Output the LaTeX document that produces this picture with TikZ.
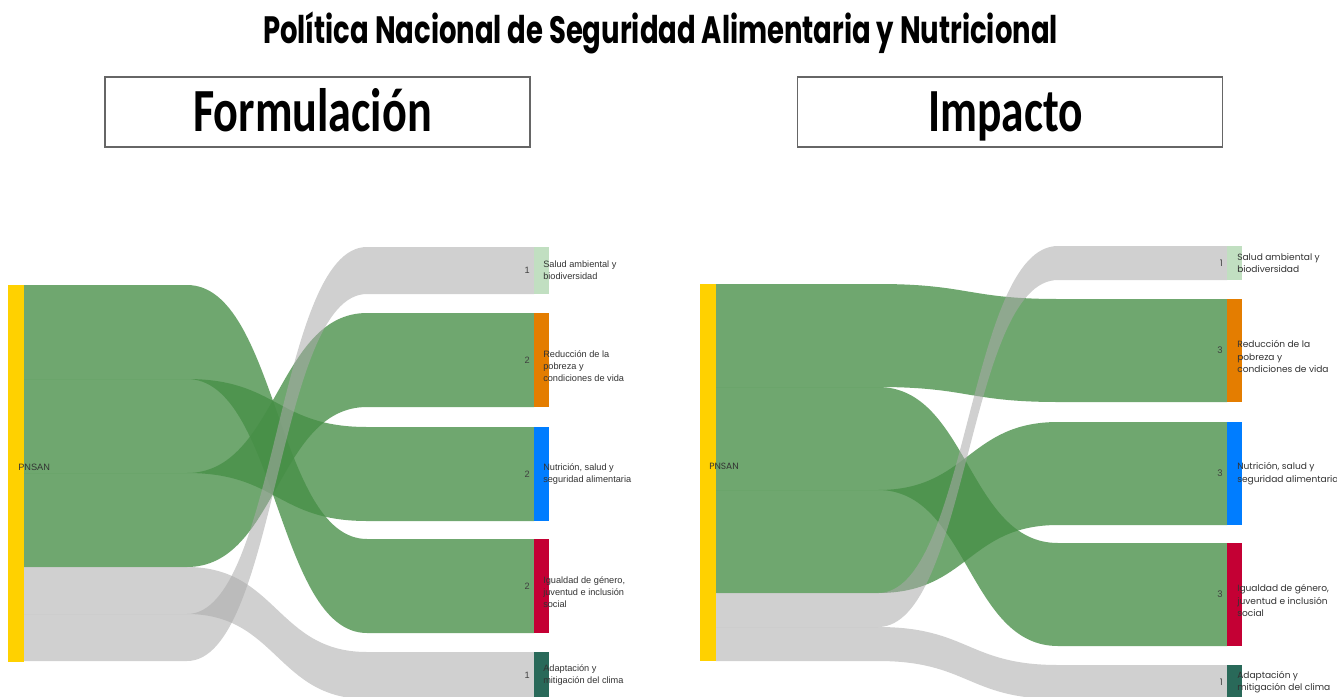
\documentclass[tikz,border=0pt]{standalone}
\usepackage{fontspec}
\usepackage{graphicx}
\setmainfont{Liberation Sans}
\newfontfamily\titlefont{Poppins}
\newfontfamily\boxfont{Carlito}
\newfontfamily\geofont{Poppins}
\definecolor{PNSANyellow}{RGB}{255,209,0}
\definecolor{SALUDmint}{RGB}{193,223,193}
\definecolor{REDUCorange}{RGB}{228,125,0}
\definecolor{NUTRIblue}{RGB}{0,125,255}
\definecolor{IGUALred}{RGB}{196,0,52}
\definecolor{ADAPTteal}{RGB}{41,105,89}
\definecolor{LINKgreen}{RGB}{71,143,71}
\definecolor{LINKgray}{RGB}{170,170,170}

% ribbon: style, source top, target top, width
\newcommand{\ribbon}[4]{%
  \fill[#1] (\xs,#2) -- (\xa,#2) .. controls (\xm,#2) and (\xm,#3) .. (\xb,#3) -- (\xt,#3)
    -- (\xt,#3+#4) -- (\xb,#3+#4) .. controls (\xm,#3+#4) and (\xm,#2+#4) .. (\xa,#2+#4)
    -- (\xs,#2+#4) -- cycle;}

\begin{document}
\begin{tikzpicture}[x=0.75pt, y=-0.75pt,
	greenlink/.style={fill=LINKgreen, fill opacity=0.78},
	graylink/.style={fill=LINKgray, fill opacity=0.55},
	bar/.style={inner sep=0, outer sep=0, minimum width=11.25pt, anchor=north west},
	stagebox/.style={draw=black!60, line width=1.1pt, inner sep=0, minimum width=318.75pt, minimum height=52.5pt},
	stagetext/.style={font=\boxfont\bfseries\fontsize{46}{46}\selectfont, text height=29.6pt, text depth=0pt, inner sep=0},
	flabel/.style={anchor=west, xshift=6.75pt, align=left, inner sep=0, text=black!80, font=\fontsize{6.9}{9}\selectfont},
	ilabel/.style={anchor=west, xshift=7.5pt, align=left, inner sep=0, text=black!80, font=\geofont\fontsize{6.8}{9.5}\selectfont},
	fvalue/.style={anchor=east, xshift=-3pt, inner sep=0, text=black!75, font=\fontsize{6.9}{9}\selectfont},
	ivalue/.style={anchor=east, xshift=-3pt, inner sep=0, text=black!75, font=\geofont\fontsize{6.8}{9.5}\selectfont},
	oneline/.style={yshift=4.5pt},
	threeline/.style={yshift=-4.5pt}
	]
	\useasboundingbox (0,0) rectangle (1337,696);
	\fill[white] (0,0) rectangle (1337,696);
	\clip (0,0) rectangle (1337,696);

	\node (maintitle) at (660.5,30) [inner sep=0, text height=20pt, text depth=0pt, font=\titlefont\bfseries\fontsize{28.6}{30}\selectfont]
		{\resizebox{596pt}{\height}{Política Nacional de Seguridad Alimentaria y Nutricional}};

	\node (formbox) at (317.5,112) [stagebox] {};
	\node (formtitle) at (312.5,112) [stagetext] {\resizebox{179pt}{\height}{Formulación}};
	\node (impbox) at (1010,112) [stagebox] {};
	\node (imptitle) at (1005.5,112) [stagetext] {\resizebox{116pt}{\height}{Impacto}};

	% Formulacion
	\def\xs{24}\def\xt{534}\def\xm{277}\def\xa{187}\def\xb{367}
	\ribbon{greenlink}{285}{539}{94}
	\ribbon{greenlink}{379}{427}{94}
	\ribbon{greenlink}{473}{313}{94}
	\ribbon{graylink}{567}{652}{47}
	\ribbon{graylink}{614}{247}{47}

	\node (pnsanF) at (8,285) [bar, minimum width=12pt, minimum height=282.75pt, fill=PNSANyellow] {};
	\node (saludF) at (534,247) [bar, minimum height=35.25pt, fill=SALUDmint] {};
	\node (reducF) at (534,313) [bar, minimum height=70.5pt, fill=REDUCorange] {};
	\node (nutriF) at (534,427) [bar, minimum height=70.5pt, fill=NUTRIblue] {};
	\node (igualF) at (534,539) [bar, minimum height=70.5pt, fill=IGUALred] {};
	\node (adaptF) at (534,652) [bar, minimum height=35.25pt, fill=ADAPTteal] {};

	\node at (pnsanF.west) [flabel, xshift=0.75pt, oneline] {PNSAN};
	\node at (saludF.west) [flabel] {Salud ambiental y\\biodiversidad};
	\node at (reducF.west) [flabel, threeline] {Reducción de la\\pobreza y\\condiciones de vida};
	\node at (nutriF.west) [flabel] {Nutrición, salud y\\seguridad alimentaria};
	\node at (igualF.west) [flabel, threeline] {Igualdad de género,\\juventud e inclusión\\social};
	\node at (adaptF.west) [flabel] {Adaptación y\\mitigación del clima};

	\node at (saludF.west) [fvalue] {1};
	\node at (reducF.west) [fvalue] {2};
	\node at (nutriF.west) [fvalue] {2};
	\node at (igualF.west) [fvalue] {2};
	\node at (adaptF.west) [fvalue] {1};

	% Impacto
	\def\xs{716}\def\xt{1227}\def\xm{968}\def\xa{878}\def\xb{1058}
	\ribbon{greenlink}{284}{299}{103}
	\ribbon{greenlink}{387}{543}{103}
	\ribbon{greenlink}{490}{422}{103}
	\ribbon{graylink}{593}{246}{34}
	\ribbon{graylink}{627}{665}{34}

	\node (pnsanI) at (700,284) [bar, minimum width=12pt, minimum height=282.75pt, fill=PNSANyellow] {};
	\node (saludI) at (1227,246) [bar, minimum height=25.5pt, fill=SALUDmint] {};
	\node (reducI) at (1227,299) [bar, minimum height=77.25pt, fill=REDUCorange] {};
	\node (nutriI) at (1227,422) [bar, minimum height=77.25pt, fill=NUTRIblue] {};
	\node (igualI) at (1227,543) [bar, minimum height=77.25pt, fill=IGUALred] {};
	\node (adaptI) at (1227,665) [bar, minimum height=25.5pt, fill=ADAPTteal] {};

	\node at (pnsanI.west) [ilabel, xshift=-0.75pt, oneline] {PNSAN};
	\node at (saludI.west) [ilabel] {Salud ambiental y\\biodiversidad};
	\node at (reducI.west) [ilabel, threeline] {Reducción de la\\pobreza y\\condiciones de vida};
	\node at (nutriI.west) [ilabel] {Nutrición, salud y\\seguridad alimentaria};
	\node at (igualI.west) [ilabel, threeline] {Igualdad de género,\\juventud e inclusión\\social};
	\node at (adaptI.west) [ilabel] {Adaptación y\\mitigación del clima};

	\node at (saludI.west) [ivalue] {1};
	\node at (reducI.west) [ivalue] {3};
	\node at (nutriI.west) [ivalue] {3};
	\node at (igualI.west) [ivalue] {3};
	\node at (adaptI.west) [ivalue] {1};
\end{tikzpicture}
\end{document}
